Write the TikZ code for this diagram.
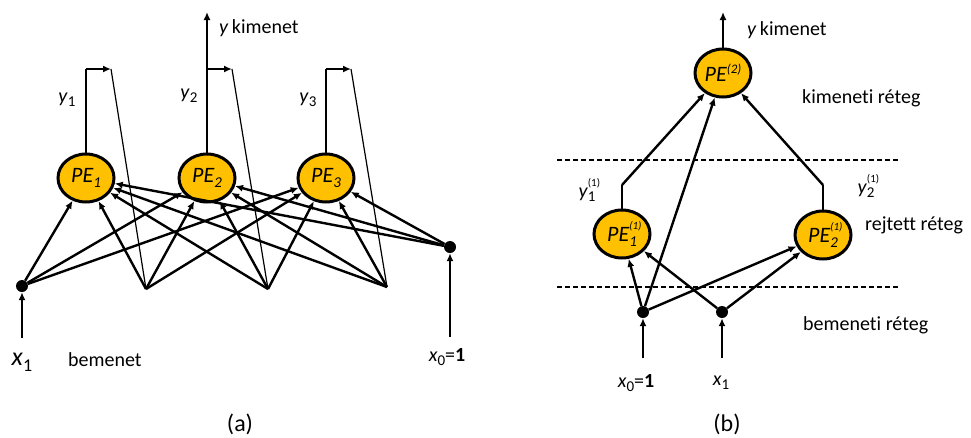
\documentclass[tikz,border=0pt]{standalone}
\usepackage{fontspec}
\setmainfont{Carlito}[Ligatures=NoCommon]
\usepackage{tikz}
\usetikzlibrary{arrows.meta,shapes.geometric}
\definecolor{pegold}{RGB}{255,192,0}
\newcommand{\lo}[1]{\raisebox{-0.45ex}{\fontsize{15}{15}\selectfont #1}}
\newcommand{\stk}[2]{\rlap{\raisebox{1.15ex}{\fontsize{11}{11}\selectfont #1}}\raisebox{-0.5ex}{\fontsize{15}{15}\selectfont #2}}
\tikzset{
  penode/.style={ellipse, draw=black, line width=3pt, fill=pegold, minimum width=56pt, minimum height=48pt, inner sep=0pt, font=\fontsize{22}{24}\selectfont\itshape},
  dotnode/.style={circle, fill=black, minimum size=12pt, inner sep=0pt},
  conn/.style={-{Latex[length=8pt,width=7pt]}, line width=2.4pt},
  thinline/.style={line width=1.2pt},
  layerline/.style={dash pattern=on 5pt off 3pt, line width=1.8pt},
  lbl/.style={font=\fontsize{20}{22}\selectfont, inner sep=0pt},
  caption/.style={font=\fontsize{24}{26}\selectfont, inner sep=0pt}
}

\begin{document}
\begin{tikzpicture}[x=1pt,y=-1pt]
  \useasboundingbox (0,0) rectangle (971,437);
  % (a)
  \node[penode] (pa) at (86,178) {PE\lo{1}};
  \node[penode] (pb) at (207,178) {PE\lo{2}};
  \node[penode] (pc) at (326,178) {PE\lo{3}};
  \node[dotnode] (xa) at (22,286) {};
  \node[dotnode] (xb) at (450,247) {};
  \coordinate (fa) at (146,289);
  \coordinate (fb) at (268,289);
  \coordinate (fc) at (387,287);
  \coordinate (ia) at (22,338);
  \coordinate (ib) at (450,337);
  \coordinate (ya) at (207,12);
  \draw[conn] (ia) -- (xa);
  \draw[conn] (ib) -- (xb);
  \foreach \s in {xa,fa,fb,fc,xb}
    \foreach \t in {pa,pb,pc}
      \draw[conn] (\s) -- (\t);
  \foreach \p/\f/\x in {pa/fa/86,pb/fb/207,pc/fc/326} {
    \coordinate (c\p) at (\x,69);
    \coordinate (t\p) at (\x+25,69);
    \draw[thinline] (\p.north) -- (c\p);
    \draw[conn] (c\p) -- (t\p);
    \draw[thinline] (t\p) -- (\f);
  }
  \draw[conn] (cpb) -- (ya);
  \node[lbl, anchor=west] (yka) at (219,28) {\textit{y}\,kimenet};
  \node[lbl] (ya1) at (67,100) {\textit{y}\lo{1}};
  \node[lbl] (ya2) at (189,96) {\textit{y}\lo{2}};
  \node[lbl] (ya3) at (308,100) {\textit{y}\lo{3}};
  \node[lbl] (xla) at (22,362) {\fontsize{26}{28}\selectfont\textit{x}\raisebox{-0.45ex}{\fontsize{18}{18}\selectfont 1}};
  \node[lbl, anchor=west] (bma) at (68,360) {bemenet};
  \node[lbl] (xlb) at (447,357) {\textit{x}\lo{0}=\textbf{1}};
  \node[caption] (capa) at (240,424) {(a)};
  % (b)
  \node[penode] (po) at (723,73) {PE\raisebox{0.8ex}{\fontsize{13}{13}\selectfont (2)}};
  \node[penode] (ha) at (622,234) {PE\stk{(1)}{1}};
  \node[penode] (hb) at (823,235) {PE\stk{(1)}{2}};
  \node[dotnode] (xc) at (643,312) {};
  \node[dotnode] (xd) at (722,312) {};
  \coordinate (ic) at (643,358);
  \coordinate (id) at (722,358);
  \coordinate (ka) at (622,185);
  \coordinate (kb) at (823,185);
  \coordinate (yo) at (723,12);
  \coordinate (la) at (557,160);
  \coordinate (lb) at (898,160);
  \coordinate (lc) at (557,287);
  \coordinate (ld) at (898,287);
  \draw[layerline] (la) -- (lb);
  \draw[layerline] (lc) -- (ld);
  \draw[conn] (ic) -- (xc);
  \draw[conn] (id) -- (xd);
  \draw[conn] (xc) -- (ha);
  \draw[conn] (xc) -- (po);
  \draw[conn] (xc) -- (hb);
  \draw[conn] (xd) -- (ha);
  \draw[conn] (xd) -- (hb);
  \draw[thinline] (ha.north) -- (ka);
  \draw[thinline] (hb.north) -- (kb);
  \draw[conn] (ka) -- (po);
  \draw[conn] (kb) -- (po);
  \draw[conn] (po.north) -- (yo);
  \node[lbl, anchor=west] (ykb) at (747,30) {\textit{y}\,kimenet};
  \node[lbl, anchor=west] (kr) at (802,98) {kimeneti réteg};
  \node[lbl, anchor=west] (rr) at (865,225) {rejtett réteg};
  \node[lbl, anchor=west] (br) at (803,325) {bemeneti réteg};
  \node[lbl] (yb1) at (587,190) {\textit{y}\stk{(1)}{1}};
  \node[lbl] (yb2) at (866,186) {\textit{y}\stk{(1)}{2}};
  \node[lbl] (xlc) at (636,383) {\textit{x}\lo{0}=\textbf{1}};
  \node[lbl] (xld) at (721,383) {\textit{x}\lo{1}};
  \node[caption] (capb) at (727,424) {(b)};
\end{tikzpicture}
\end{document}
